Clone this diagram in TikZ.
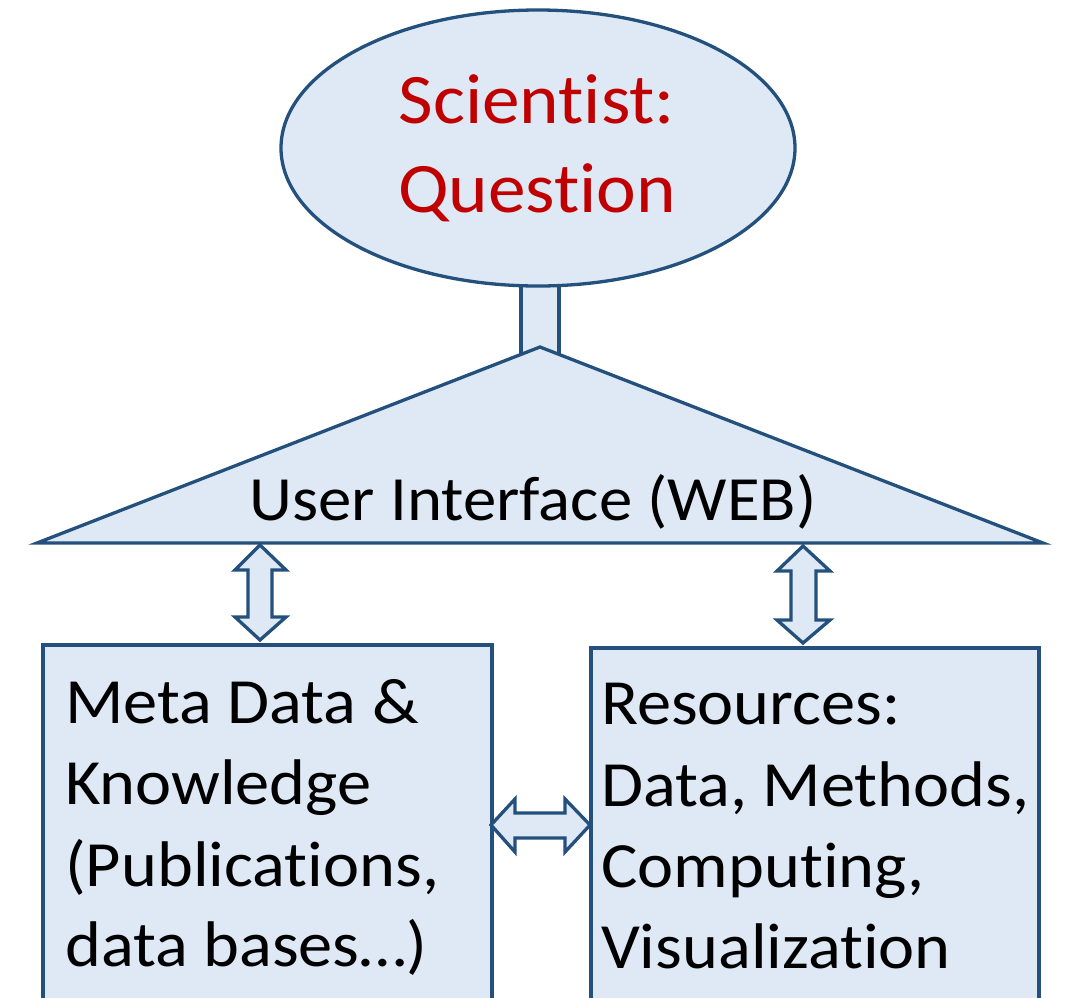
\documentclass[tikz,border=0pt]{standalone}
\usepackage{fontspec}
\usetikzlibrary{shapes.geometric}
\setmainfont[Ligatures={NoCommon},FakeStretch=1.06]{Carlito}
\definecolor{boxfill}{HTML}{DEE9F5}
\definecolor{boxline}{HTML}{24507D}
\definecolor{qred}{HTML}{C00000}
\begin{document}
\begin{tikzpicture}[x=1pt,y=-1pt,
  shape fill/.style={fill=boxfill,draw=boxline,line width=3.3pt,line join=miter},
  big text/.style={font=\fontsize{63}{81}\selectfont,text=black,inner sep=0pt},
  line text/.style={big text,font=\fontsize{64.5}{81}\selectfont,anchor=base west}]
\useasboundingbox (0,0) rectangle (1065,997);
% stem between the ellipse and the triangle
\draw[shape fill] (521,270) rectangle (559,355);
% scientist ellipse
\node[shape fill,ellipse,minimum width=514pt,minimum height=276pt,inner sep=0pt] (sci) at (538,148) {};
\node[text=qred,font=\fontsize{71}{89}\selectfont,inner sep=0pt,anchor=base] (sci1) at (537,123) {Scientist:};
\node[text=qred,font=\fontsize{71}{89}\selectfont,inner sep=0pt,anchor=base] (sci2) at (537,212) {Question};
% user interface triangle
\coordinate (apex) at (540,347);
\coordinate (bl) at (37,543);
\coordinate (br) at (1043,543);
\draw[shape fill] (apex) -- (br) -- (bl) -- cycle;
\node[big text,anchor=base] (ui) at (533,520) {User Interface (WEB)};
% left box: metadata and knowledge
\draw[shape fill] (43,1010) -- (43,645) -- (492,645) -- (492,1010);
\node[line text] (meta1) at (65,723) {Meta Data \&};
\node[line text] (meta2) at (65,804) {Knowledge};
\node[line text] (meta3) at (65,886) {(Publications,};
\node[line text] (meta4) at (65,966) {data bases\dots)};
% right box: resources
\draw[shape fill] (591,1010) -- (591,648) -- (1039,648) -- (1039,1010);
\node[line text] (res1) at (601,724) {Resources:};
\node[line text] (res2) at (601,806) {Data, Methods,};
\node[line text] (res3) at (601,887) {Computing,};
\node[line text] (res4) at (601,968) {Visualization};
% vertical double arrows
\draw[shape fill] (260,545) -- (286,570) -- (272,570) -- (272,617) -- (286,617) -- (260,640)
  -- (235,617) -- (248,617) -- (248,570) -- (235,570) -- cycle;
\draw[shape fill] (803,546) -- (830,571) -- (816,571) -- (816,620) -- (830,620) -- (803,643)
  -- (777,620) -- (791,620) -- (791,571) -- (777,571) -- cycle;
% horizontal double arrow
\draw[shape fill] (491,825) -- (515,799) -- (515,813) -- (565,813) -- (565,799) -- (590,825)
  -- (565,852) -- (565,838) -- (515,838) -- (515,852) -- cycle;
\end{tikzpicture}
\end{document}
